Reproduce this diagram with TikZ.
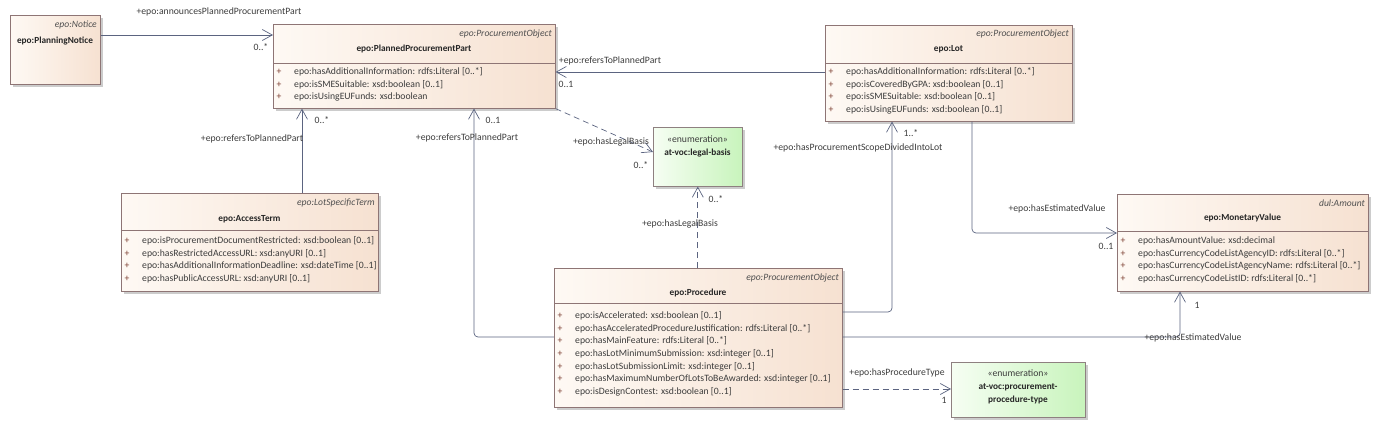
\documentclass[tikz,border=0pt]{standalone}
\usepackage{fontspec}
\setmainfont{Carlito}
\usetikzlibrary{arrows.meta}
\usetikzlibrary{calc}
\usetikzlibrary{shadows}
\usetikzlibrary{positioning}

\definecolor{classfillA}{HTML}{FEF9F4}
\definecolor{classfillB}{HTML}{F6E1D1}
\definecolor{classborder}{HTML}{8E7575}
\definecolor{enumfillA}{HTML}{F6FEF3}
\definecolor{enumfillB}{HTML}{C8F4BC}
\definecolor{enumborder}{HTML}{8E8080}
\definecolor{linkcolor}{HTML}{5B6480}
\definecolor{txtcolor}{HTML}{3C3C3C}
\definecolor{stereoclr}{HTML}{505050}
\definecolor{plusclr}{HTML}{7A3B2E}

\begin{document}
\begin{tikzpicture}[x=1pt, y=-1pt,
    classbox/.style={draw=classborder, line width=0.6pt, left color=classfillA, right color=classfillB,
      drop shadow={shadow xshift=2.5pt, shadow yshift=-2.5pt, fill=black, opacity=0.2},
      inner sep=0pt, anchor=north west},
    enumbox/.style={classbox, draw=enumborder, left color=enumfillA, right color=enumfillB},
    stereo/.style={font=\fontsize{9.6}{11}\selectfont\itshape, text=stereoclr, inner sep=0pt, anchor=east},
    title/.style={font=\fontsize{9.3}{11}\selectfont\bfseries, text=black!85, inner sep=0pt},
    attr/.style={font=\fontsize{9.7}{11}\selectfont, text=txtcolor, inner sep=0pt, anchor=west},
    plus/.style={font=\fontsize{9.7}{11}\selectfont, text=plusclr, inner sep=0pt},
    lbl/.style={font=\fontsize{9.7}{11}\selectfont, text=txtcolor, inner sep=0pt},
    divider/.style={draw=classborder, line width=0.6pt},
    link/.style={draw=linkcolor, line width=0.7pt, rounded corners=4pt,
      -{Straight Barb[length=10pt, width=11pt, line width=0.7pt]}},
    deplink/.style={link, dash pattern=on 6pt off 4pt}]

    \useasboundingbox (0,0) rectangle (1379,428);

    %% CLASSES %%
    % epo:PlanningNotice
    \node[classbox, minimum width=90pt, minimum height=69pt] (pn) at (10,15) {};
    \node[stereo] (pn-st) at (97,25) {epo:Notice};
    \node[title] (pn-nm) at (55,41) {epo:PlanningNotice};

    % epo:PlannedProcurementPart
    \node[classbox, minimum width=282pt, minimum height=84pt] (ppp) at (273,24) {};
    \node[stereo] (ppp-st) at (552,34) {epo:ProcurementObject};
    \node[title] (ppp-nm) at (414,49) {epo:PlannedProcurementPart};
    \draw[divider] (ppp.west |- 0,63) -- (ppp.east |- 0,63);
    \foreach \txt [count=\i] in {{epo:hasAdditionalInformation: rdfs:Literal [0..*]},
        {epo:isSMESuitable: xsd:boolean [0..1]}, {epo:isUsingEUFunds: xsd:boolean}} {
      \node[plus] (ppp-p\i) at (279,{72+12.6*(\i-1)}) {+};
      \node[attr] (ppp-a\i) at (294,{72+12.6*(\i-1)}) {\txt};
    }

    % epo:Lot
    \node[classbox, minimum width=247pt, minimum height=96pt] (lot) at (825,25) {};
    \node[stereo] (lot-st) at (1069,34) {epo:ProcurementObject};
    \node[title] (lot-nm) at (948.5,49) {epo:Lot};
    \draw[divider] (lot.west |- 0,63) -- (lot.east |- 0,63);
    \foreach \txt [count=\i] in {{epo:hasAdditionalInformation: rdfs:Literal [0..*]},
        {epo:isCoveredByGPA: xsd:boolean [0..1]}, {epo:isSMESuitable: xsd:boolean [0..1]},
        {epo:isUsingEUFunds: xsd:boolean [0..1]}} {
      \node[plus] (lot-p\i) at (831,{72+12.6*(\i-1)}) {+};
      \node[attr] (lot-a\i) at (846,{72+12.6*(\i-1)}) {\txt};
    }

    % epo:AccessTerm
    \node[classbox, minimum width=257pt, minimum height=98pt] (at) at (121,193) {};
    \node[stereo] (at-st) at (375,203) {epo:LotSpecificTerm};
    \node[title] (at-nm) at (249.5,219) {epo:AccessTerm};
    \draw[divider] (at.west |- 0,230) -- (at.east |- 0,230);
    \foreach \txt [count=\i] in {{epo:isProcurementDocumentRestricted: xsd:boolean [0..1]},
        {epo:hasRestrictedAccessURL: xsd:anyURI [0..1]},
        {epo:hasAdditionalInformationDeadline: xsd:dateTime [0..1]},
        {epo:hasPublicAccessURL: xsd:anyURI [0..1]}} {
      \node[plus] (at-p\i) at (127,{241+12.6*(\i-1)}) {+};
      \node[attr] (at-a\i) at (142,{241+12.6*(\i-1)}) {\txt};
    }

    % epo:Procedure
    \node[classbox, minimum width=288pt, minimum height=139pt] (proc) at (554,268) {};
    \node[stereo] (proc-st) at (839,278) {epo:ProcurementObject};
    \node[title] (proc-nm) at (698,293) {epo:Procedure};
    \draw[divider] (proc.west |- 0,303) -- (proc.east |- 0,303);
    \foreach \txt [count=\i] in {{epo:isAccelerated: xsd:boolean [0..1]},
        {epo:hasAcceleratedProcedureJustification: rdfs:Literal [0..*]},
        {epo:hasMainFeature: rdfs:Literal [0..*]},
        {epo:hasLotMinimumSubmission: xsd:integer [0..1]},
        {epo:hasLotSubmissionLimit: xsd:integer [0..1]},
        {epo:hasMaximumNumberOfLotsToBeAwarded: xsd:integer [0..1]},
        {epo:isDesignContest: xsd:boolean [0..1]}} {
      \node[plus] (proc-p\i) at (560,{316+12.6*(\i-1)}) {+};
      \node[attr] (proc-a\i) at (575,{316+12.6*(\i-1)}) {\txt};
    }

    % epo:MonetaryValue
    \node[classbox, minimum width=251pt, minimum height=97pt] (mv) at (1117,194) {};
    \node[stereo] (mv-st) at (1365,203) {dul:Amount};
    \node[title] (mv-nm) at (1242.5,218) {epo:MonetaryValue};
    \draw[divider] (mv.west |- 0,231) -- (mv.east |- 0,231);
    \foreach \txt [count=\i] in {{epo:hasAmountValue: xsd:decimal},
        {epo:hasCurrencyCodeListAgencyID: rdfs:Literal [0..*]},
        {epo:hasCurrencyCodeListAgencyName: rdfs:Literal [0..*]},
        {epo:hasCurrencyCodeListID: rdfs:Literal [0..*]}} {
      \node[plus] (mv-p\i) at (1123,{241+12.6*(\i-1)}) {+};
      \node[attr] (mv-a\i) at (1138,{241+12.6*(\i-1)}) {\txt};
    }

    %% ENUMERATIONS %%
    \node[enumbox, minimum width=89pt, minimum height=59pt] (lb) at (653,127) {};
    \node[lbl] (lb-st) at (697.5,139) {«enumeration»};
    \node[title] (lb-nm) at (697.5,153) {at-voc:legal-basis};

    \node[enumbox, minimum width=134pt, minimum height=55pt] (ppt) at (951,362) {};
    \node[lbl] (ppt-st) at (1018,373) {«enumeration»};
    \node[title] (ppt-nm1) at (1018,387) {at-voc:procurement-};
    \node[title] (ppt-nm2) at (1018,400) {procedure-type};

    %% CONNECTORS %%
    % PlanningNotice -> PlannedProcurementPart
    \draw[link] (pn.east |- 0,35) -- (ppp.west |- 0,35);
    \node[lbl] (l-ann) at (219,12) {+epo:announcesPlannedProcurementPart};
    \node[lbl] (m-ann) at (261,47) {0..*};

    % AccessTerm -> PlannedProcurementPart
    \draw[link] (302,0 |- at.north) -- (302,0 |- ppp.south);
    \node[lbl] (l-at) at (252,139) {+epo:refersToPlannedPart};
    \node[lbl] (m-at) at (322,120) {0..*};

    % Procedure -> PlannedProcurementPart
    \draw[link] (proc.west |- 0,337) -- (474,337) -- (474,0 |- ppp.south);
    \node[lbl] (l-proc) at (467,138) {+epo:refersToPlannedPart};
    \node[lbl] (m-proc) at (493,120) {0..1};

    % Lot -> PlannedProcurementPart
    \draw[link] (lot.west |- 0,72) -- (ppp.east |- 0,72);
    \node[lbl] (l-lot) at (610,61) {+epo:refersToPlannedPart};
    \node[lbl] (m-lot) at (566,84) {0..1};

    % PlannedProcurementPart -> legal-basis
    \draw[deplink] (ppp.south east) -- (lb.west |- 0,152);
    \node[lbl] (l-lb1) at (611,142) {+epo:hasLegalBasis};
    \node[lbl] (m-lb1) at (641,165) {0..*};

    % Procedure -> legal-basis
    \draw[deplink] (proc.north -| lb.south) -- (lb.south);
    \node[lbl] (l-lb2) at (680,224) {+epo:hasLegalBasis};
    \node[lbl] (m-lb2) at (716,199) {0..*};

    % Procedure -> Lot
    \draw[link] (proc.east |- 0,312) -- (892,312) -- (892,0 |- lot.south);
    \node[lbl] (l-plot) at (858,148) {+epo:hasProcurementScopeDividedIntoLot};
    \node[lbl] (m-plot) at (911,133) {1..*};

    % Lot -> MonetaryValue
    \draw[link] (972,0 |- lot.south) -- (972,233) -- (mv.west |- 0,233);
    \node[lbl] (l-lmv) at (1057,209) {+epo:hasEstimatedValue};
    \node[lbl] (m-lmv) at (1106,246) {0..1};

    % Procedure -> MonetaryValue
    \draw[link] (proc.east |- 0,337) -- (1180,337) -- (1180,0 |- mv.south);
    \node[lbl] (l-pmv) at (1193,338) {+epo:hasEstimatedValue};
    \node[lbl] (m-pmv) at (1197,305) {1};

    % Procedure -> procurement-procedure-type
    \draw[deplink] (proc.east |- 0,389) -- (ppt.west |- 0,389);
    \node[lbl] (l-ppt) at (897,373) {+epo:hasProcedureType};
    \node[lbl] (m-ppt) at (944,400) {1};
\end{tikzpicture}
\end{document}
